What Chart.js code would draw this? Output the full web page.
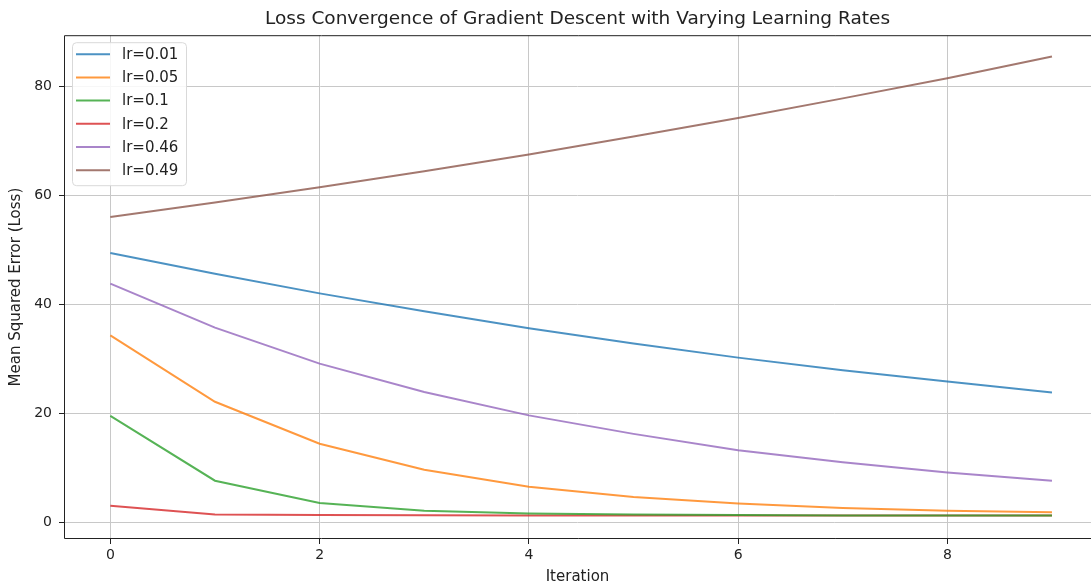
<!DOCTYPE html>
<html lang="en">
<head>
<meta charset="UTF-8">
<title>Loss Convergence</title>
<script src="https://cdn.jsdelivr.net/npm/chart.js"></script>
<style>
  html, body { margin: 0; padding: 0; background: #fff; overflow: hidden; }
  #wrap { width: 1091px; height: 587px; }
</style>
</head>
<body>
<div id="wrap"><canvas id="lossChart"></canvas></div>
<script>
// data
const iterations = [0, 1, 2, 3, 4, 5, 6, 7, 8, 9];
const seriesLabels = ['lr=0.01', 'lr=0.05', 'lr=0.1', 'lr=0.2', 'lr=0.46', 'lr=0.49'];
const loss001 = [49.4, 45.6, 42.0, 38.7, 35.6, 32.8, 30.2, 27.9, 25.8, 23.8];
const loss005 = [34.3, 22.1, 14.4, 9.6, 6.5, 4.6, 3.4, 2.6, 2.1, 1.8];
const loss01  = [19.5, 7.6, 3.5, 2.1, 1.6, 1.4, 1.3, 1.2, 1.2, 1.2];
const loss02  = [3.0, 1.4, 1.3, 1.25, 1.2, 1.2, 1.2, 1.2, 1.2, 1.2];
const loss046 = [43.8, 35.7, 29.1, 23.9, 19.6, 16.2, 13.2, 11.0, 9.1, 7.6];
const loss049 = [56.0, 58.7, 61.5, 64.4, 67.5, 70.8, 74.2, 77.8, 81.5, 85.5];
const xTicks = [0, 2, 4, 6, 8];
const yTicks = [0, 20, 40, 60, 80];

const lineColors = [
  'rgba(31,119,180,0.8)', 'rgba(255,127,14,0.8)', 'rgba(44,160,44,0.8)',
  'rgba(214,39,40,0.8)', 'rgba(148,103,189,0.8)', 'rgba(140,86,75,0.8)'
];
const allSeries = [loss001, loss005, loss01, loss02, loss046, loss049];

const FONT = '"DejaVu Sans", sans-serif';

// spines on top, left and bottom (the right one is cut off in the original)
const frame = {
  id: 'frame',
  afterDatasetsDraw(chart) {
    const a = chart.chartArea, c = chart.ctx;
    c.save();
    c.strokeStyle = '#222';
    c.lineWidth = 1;
    c.beginPath();
    c.moveTo(a.right + 1, a.top + 0.5);
    c.lineTo(a.left + 0.5, a.top + 0.5);
    c.lineTo(a.left + 0.5, a.bottom - 0.5);
    c.lineTo(a.right + 1, a.bottom - 0.5);
    c.stroke();
    c.restore();
  }
};

// legend box in the upper left corner
const boxLegend = {
  id: 'boxLegend',
  afterDraw(chart) {
    const c = chart.ctx, a = chart.chartArea;
    const x = a.left + 8, y = a.top + 7, w = 114, h = 143, r = 4;
    c.save();
    c.beginPath();
    c.roundRect(x + 0.5, y + 0.5, w, h, r);
    c.fillStyle = 'rgba(255,255,255,0.85)';
    c.fill();
    c.strokeStyle = '#d9d9d9';
    c.lineWidth = 1;
    c.stroke();
    c.font = '15px ' + FONT;
    c.textBaseline = 'middle';
    chart.data.datasets.forEach((ds, i) => {
      const yy = y + 12 + i * 23.2;
      c.strokeStyle = ds.borderColor;
      c.lineWidth = 2;
      c.beginPath();
      c.moveTo(x + 4, yy);
      c.lineTo(x + 38, yy);
      c.stroke();
      c.fillStyle = '#222';
      c.fillText(ds.label, x + 50, yy + 1);
    });
    c.restore();
  }
};

new Chart(document.getElementById('lossChart'), {
  type: 'line',
  data: {
    datasets: seriesLabels.map((lab, i) => ({
      label: lab,
      data: iterations.map((it, j) => ({ x: it, y: allSeries[i][j] })),
      borderColor: lineColors[i],
      backgroundColor: lineColors[i],
      borderWidth: 2,
      pointRadius: 0,
      tension: 0,
      fill: false
    }))
  },
  options: {
    responsive: true,
    maintainAspectRatio: false,
    animation: false,
    layout: { padding: { left: 0, right: 0, top: 0, bottom: 0 } },
    plugins: {
      legend: { display: false },
      tooltip: { enabled: false },
      title: {
        display: true,
        fullSize: false,
        text: 'Loss Convergence of Gradient Descent with Varying Learning Rates',
        color: '#222',
        font: { family: FONT, size: 18.5, weight: 'normal' },
        padding: { top: 8, bottom: 5 }
      }
    },
    scales: {
      x: {
        type: 'linear',
        min: -0.443,
        max: 9.373,
        afterBuildTicks: ax => { ax.ticks = xTicks.map(v => ({ value: v })); },
        afterFit: ax => { ax.height = 48; },
        grid: { color: '#c8c8c8', lineWidth: 1, tickColor: '#222', tickLength: 5 },
        border: { display: false },
        ticks: { color: '#222', padding: 3, font: { family: FONT, size: 14 } },
        title: {
          display: true, text: 'Iteration', color: '#222',
          font: { family: FONT, size: 15 }, padding: { top: 0, bottom: 1 }
        }
      },
      y: {
        min: -3.1,
        max: 89.4,
        afterBuildTicks: ax => { ax.ticks = yTicks.map(v => ({ value: v })); },
        afterFit: ax => { ax.width = 64; },
        grid: { color: '#c8c8c8', lineWidth: 1, tickColor: '#222', tickLength: 5 },
        border: { display: false },
        ticks: { color: '#222', padding: 7, font: { family: FONT, size: 14 } },
        title: {
          display: true, text: 'Mean Squared Error (Loss)', color: '#222',
          font: { family: FONT, size: 15 }, padding: { top: 7, bottom: 0 }
        }
      }
    }
  },
  plugins: [frame, boxLegend]
});
</script>
</body>
</html>
